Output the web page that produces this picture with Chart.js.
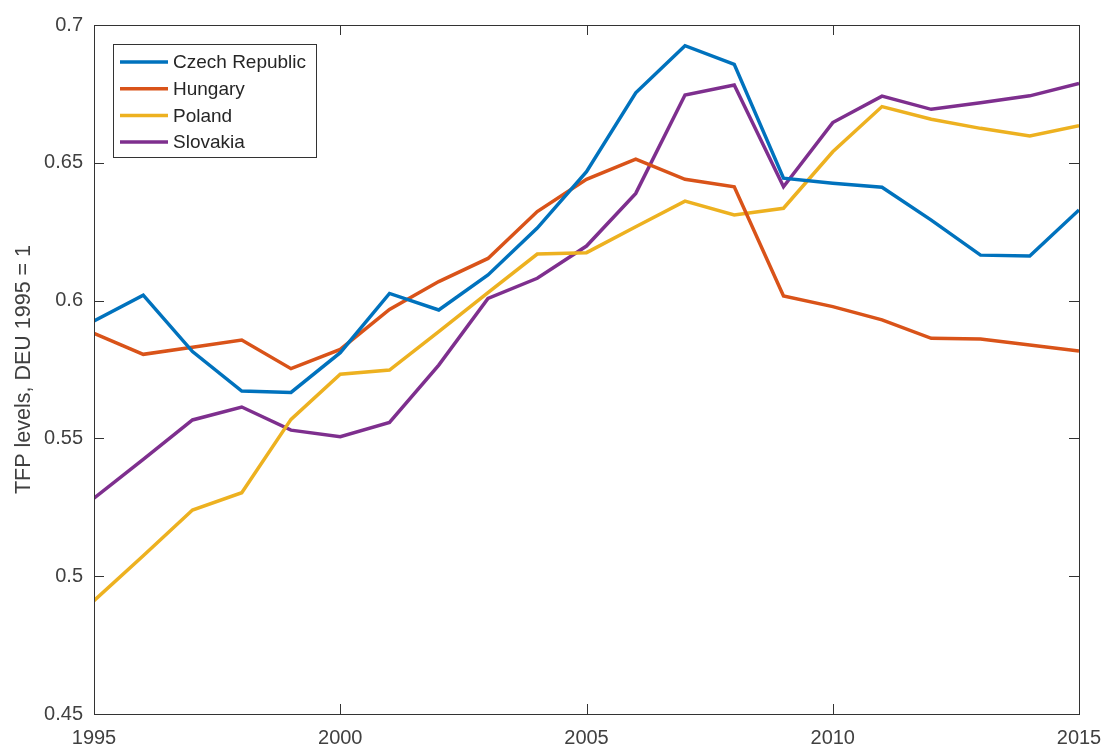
<!DOCTYPE html>
<html lang="en">
<head>
    <meta charset="UTF-8">
    <title>TFP levels</title>
    <style>
        body { margin: 0; background: #fff; }
        #wrap { width: 1103px; height: 749px; }
    </style>
    <script src="https://cdn.jsdelivr.net/npm/chart.js"></script>
</head>
<body>
<div id="wrap"><canvas id="grafico" width="1103" height="749"></canvas></div>

<script>
    const anos = [1995, 1996, 1997, 1998, 1999, 2000, 2001, 2002, 2003, 2004, 2005,
                  2006, 2007, 2008, 2009, 2010, 2011, 2012, 2013, 2014, 2015];

    const czech = [0.5926, 0.6020, 0.5815, 0.5672, 0.5667, 0.5811, 0.6026, 0.5966, 0.6093, 0.6263, 0.6468,
                   0.6754, 0.6925, 0.6857, 0.6444, 0.6426, 0.6411, 0.6292, 0.6165, 0.6162, 0.6329];
    const hungary = [0.5881, 0.5805, 0.5831, 0.5857, 0.5753, 0.5823, 0.5968, 0.6069, 0.6153, 0.6323, 0.6440,
                     0.6513, 0.6440, 0.6413, 0.6017, 0.5978, 0.5930, 0.5863, 0.5861, 0.5839, 0.5817];
    const poland = [0.4911, 0.5074, 0.5240, 0.5303, 0.5569, 0.5733, 0.5748, 0.5887, 0.6029, 0.6169, 0.6174,
                    0.6268, 0.6361, 0.6311, 0.6335, 0.6540, 0.6704, 0.6658, 0.6625, 0.6597, 0.6635];
    const slovakia = [0.5283, 0.5424, 0.5567, 0.5614, 0.5530, 0.5506, 0.5558, 0.5766, 0.6008, 0.6081, 0.6198,
                      0.6389, 0.6746, 0.6782, 0.6413, 0.6646, 0.6742, 0.6694, 0.6718, 0.6743, 0.6788];

    const paises = ['Czech Republic', 'Hungary', 'Poland', 'Slovakia'];
    const cores = ['#0072BD', '#D95319', '#EDB120', '#7E2F8E'];
    const series = [czech, hungary, poland, slovakia];

    const xTicks = [1995, 2000, 2005, 2010, 2015];
    const yTicks = [0.45, 0.5, 0.55, 0.6, 0.65, 0.7];
    const yTitulo = 'TFP levels, DEU 1995 = 1';

    const corTexto = '#404040';
    const corEixo = '#333333';
    const fonte = 'Liberation Sans, Arial, Helvetica, sans-serif';

    // caixa do eixo com ticks para dentro (estilo matlab) + legenda dentro da area
    const caixaMatlab = {
        id: 'caixaMatlab',
        afterDatasetsDraw(chart) {
            const { ctx, chartArea: a, scales } = chart;
            ctx.save();
            ctx.strokeStyle = corEixo;
            ctx.lineWidth = 1;
            ctx.strokeRect(Math.round(a.left) + 0.5, Math.round(a.top) + 0.5,
                Math.round(a.right - a.left), Math.round(a.bottom - a.top));
            const len = 10;
            ctx.beginPath();
            xTicks.forEach(v => {
                const x = Math.round(scales.x.getPixelForValue(v)) + 0.5;
                ctx.moveTo(x, a.bottom); ctx.lineTo(x, a.bottom - len);
                ctx.moveTo(x, a.top); ctx.lineTo(x, a.top + len);
            });
            yTicks.forEach(v => {
                const y = Math.round(scales.y.getPixelForValue(v)) + 0.5;
                ctx.moveTo(a.left, y); ctx.lineTo(a.left + len, y);
                ctx.moveTo(a.right, y); ctx.lineTo(a.right - len, y);
            });
            ctx.stroke();

            // legenda
            const lx = 113, ly = 44, lw = 203, lh = 113;
            ctx.fillStyle = '#fff';
            ctx.fillRect(lx, ly, lw, lh);
            ctx.strokeStyle = '#333';
            ctx.strokeRect(lx + 0.5, ly + 0.5, lw, lh);
            ctx.font = '19px ' + fonte;
            ctx.textBaseline = 'middle';
            chart.data.datasets.forEach((ds, i) => {
                const y = 62 + i * 26.7;
                ctx.strokeStyle = ds.borderColor;
                ctx.lineWidth = 3.5;
                ctx.beginPath();
                ctx.moveTo(120, y); ctx.lineTo(168, y);
                ctx.stroke();
                ctx.fillStyle = '#262626';
                ctx.fillText(ds.label, 173, y + 1);
            });
            ctx.restore();
        }
    };

    new Chart(document.getElementById('grafico'), {
        type: 'line',
        data: {
            datasets: series.map((s, i) => ({
                label: paises[i],
                data: s.map((v, j) => ({ x: anos[j], y: v })),
                borderColor: cores[i],
                backgroundColor: cores[i],
                borderWidth: 3.5,
                pointRadius: 0,
                tension: 0,
                fill: false
            }))
        },
        options: {
            responsive: false,
            animation: false,
            layout: { padding: { top: 25, right: 24, left: 0, bottom: 0 } },
            plugins: {
                legend: { display: false },
                tooltip: { enabled: false }
            },
            scales: {
                x: {
                    type: 'linear',
                    min: 1995,
                    max: 2015,
                    afterFit: s => { s.height = 35; s.paddingLeft = 0; s.paddingRight = 0; },
                    afterBuildTicks: s => { s.ticks = xTicks.map(v => ({ value: v })); },
                    grid: { display: false, drawTicks: false },
                    border: { display: false },
                    ticks: {
                        padding: 12,
                        color: corTexto,
                        font: { family: fonte, size: 20 },
                        maxRotation: 0,
                        autoSkip: false,
                        callback: v => String(v)
                    }
                },
                y: {
                    min: 0.45,
                    max: 0.7,
                    afterFit: s => { s.width = 94; s.paddingTop = 0; s.paddingBottom = 0; },
                    afterBuildTicks: s => { s.ticks = yTicks.map(v => ({ value: v })); },
                    grid: { display: false, drawTicks: false },
                    border: { display: false },
                    title: {
                        display: true,
                        text: yTitulo,
                        color: corTexto,
                        font: { family: fonte, size: 21.5 },
                        padding: { top: 11, bottom: 0 }
                    },
                    ticks: {
                        padding: 11,
                        color: corTexto,
                        font: { family: fonte, size: 20 },
                        autoSkip: false,
                        callback: v => String(+v.toFixed(2))
                    }
                }
            }
        },
        plugins: [caixaMatlab]
    });
</script>
</body>
</html>
